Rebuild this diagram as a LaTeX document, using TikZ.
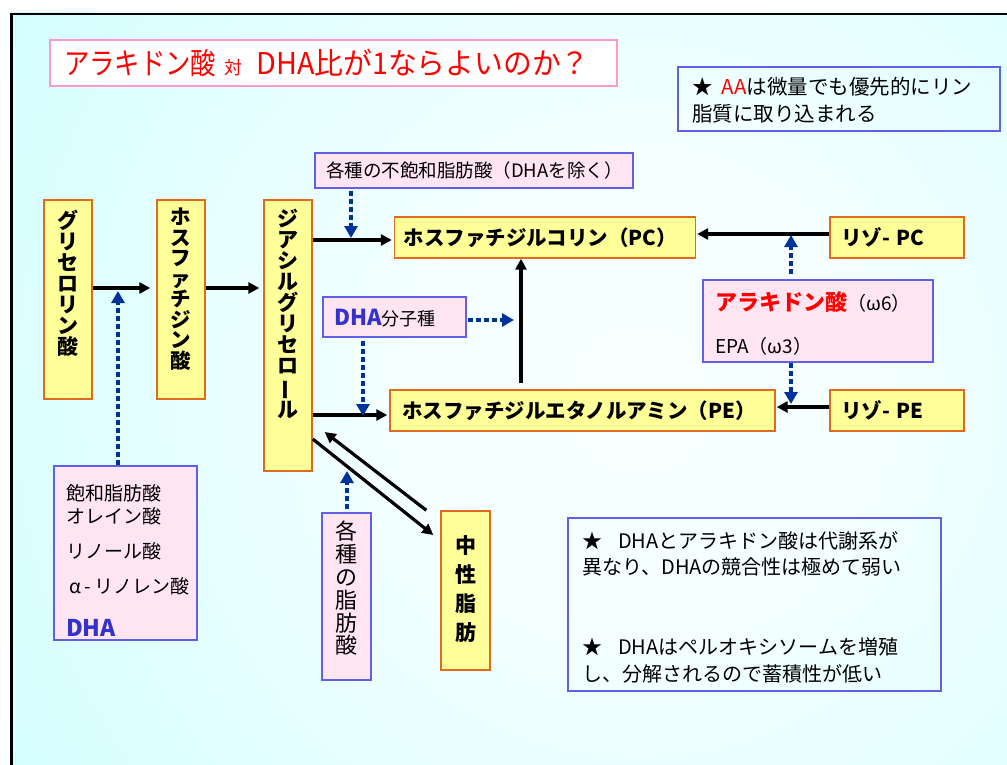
\documentclass[tikz,border=0pt]{standalone}
\usepackage{fontspec}
\usepackage{graphicx}
\setmainfont{Noto Sans CJK JP}
\usetikzlibrary{arrows.meta}
\definecolor{bgcyan}{HTML}{CCFFFF}
\definecolor{yfill}{HTML}{FFFF99}
\definecolor{yborder}{HTML}{E06A1E}
\definecolor{pfill}{HTML}{FFE4F1}
\definecolor{pborder}{HTML}{6060E6}
\definecolor{tpink}{HTML}{FF99CC}
\definecolor{dhablue}{HTML}{3333CC}
\definecolor{dblue}{HTML}{003399}
\newcommand\myfs[2]{\fontsize{#1}{#2}\selectfont}
\pgfdeclareradialshading{bgshade}{\pgfpoint{0bp}{0bp}}{color(0bp)=(white!85!bgcyan); color(8bp)=(white!80!bgcyan); color(31bp)=(bgcyan); color(50bp)=(bgcyan)}
\tikzset{
  ybox/.style={draw=yborder, fill=yfill, line width=1.4pt, inner sep=0pt},
  pbox/.style={draw=pborder, fill=pfill, line width=1.4pt, inner sep=0pt},
  nbox/.style={draw=pborder, line width=1.4pt, inner sep=0pt},
  hbox/.style={ybox, align=left, minimum height=41pt, font=\bfseries\myfs{20.5}{24}},
  vtxt/.style={align=center, inner sep=0pt, anchor=north},
  ltxt/.style={anchor=base west, inner sep=0pt},
  blk/.style={line width=3.2pt, -{Triangle[length=11pt,width=11pt]}},
  dots/.style={draw=dblue, line width=4pt, dash pattern=on 5pt off 3pt, -{Triangle[length=12pt,width=13pt,fill=dblue]}}
}
\begin{document}
\begin{tikzpicture}[x=1pt,y=-1pt]
\useasboundingbox (0,0) rectangle (1007,765);
\fill[white] (0,0) rectangle (1007,765);
\begin{scope}
\clip (11,13) rectangle (1007,765);
\shade[shading=bgshade] (-60,-300) rectangle (1340,1100);
\end{scope}
\draw[line width=2.5pt] (11.5,765) -- (11.5,14) -- (1007,14);

% title
\node[draw=tpink, fill=white, line width=1.8pt, minimum width=567pt, minimum height=46pt, inner sep=0pt] (title) at (333.5,63) {};
\node[anchor=west, inner sep=0pt, text=red, font=\myfs{30}{30}] (titletext) at (64,63) {\scalebox{0.845}[1]{アラキドン酸}\hspace{8pt}{\myfs{18}{18}対}\hspace{14pt}\scalebox{0.96}[1]{DHA比が1ならよいのか？}};

% top-right note
\node[nbox, minimum width=322pt, minimum height=64pt] (aanote) at (839,99) {};
\node[ltxt, font=\myfs{20.5}{20.5}] (aa1) at (692,95) {★\hspace{0.45em}{\color{red}AA}は微量でも優先的にリン};
\node[ltxt, font=\myfs{20.5}{20.5}] (aa2) at (692,122) {脂質に取り込まれる};

% vertical yellow boxes
\node[ybox, minimum width=48pt, minimum height=199pt] (gp) at (68,299.5) {};
\node[vtxt, font=\bfseries\myfs{21}{21}] (gpt) at (68,210) {グ\\リ\\セ\\ロ\\リ\\ン\\酸};
\node[ybox, minimum width=48pt, minimum height=199pt] (pa) at (181,299.5) {};
\node[vtxt, font=\bfseries\myfs{20.5}{20.5}] (pat) at (181,208) {ホ\\ス\\フ\\ァ\\チ\\ジ\\ン\\酸};
\node[ybox, minimum width=48pt, minimum height=271pt] (dag) at (288,335.5) {};
\node[vtxt, font=\bfseries\myfs{21}{21}] (dagt) at (288,209) {ジ\\ア\\シ\\ル\\グ\\リ\\セ\\ロ\\\rotatebox[origin=c]{90}{ー}\\ル};
\node[ybox, minimum width=49pt, minimum height=159pt] (tg) at (465.5,590.5) {};
\node[vtxt, font=\bfseries\myfs{21}{29}] (tgt) at (465.5,535) {中\\性\\脂\\肪};

% horizontal yellow boxes
\node[hbox, text width=283pt, inner xsep=9pt] (pc) at (545,237.5) {ホスファチジルコリン（PC）};
\node[hbox, text width=361pt, inner xsep=12pt] (pe) at (582.5,410.5) {ホスファチジルエタノルアミン（PE）};
\node[hbox, text width=112pt, inner xsep=11pt] (lpc) at (897,237.5) {リゾ- PC};
\node[hbox, text width=112pt, inner xsep=11pt] (lpe) at (897,410.5) {リゾ- PE};

% pink boxes
\node[pbox, minimum width=318pt, minimum height=35pt] (unsat) at (474,170.5) {};
\node[ltxt, font=\myfs{18.5}{18.5}] (unsatt) at (326,177.5) {各種の不飽和脂肪酸（DHAを除く）};
\node[pbox, minimum width=143pt, minimum height=40pt] (dhamol) at (394.5,317) {};
\node[ltxt] (dhamolt) at (334,325) {{\color{dhablue}\bfseries\myfs{22}{22}DHA}{\myfs{18}{18}分子種}};
\node[pbox, minimum width=230pt, minimum height=82pt] (aa) at (818,321) {};
\node[ltxt] (aat1) at (715,310) {{\color{red}\bfseries\myfs{22}{22}アラキドン酸}{\myfs{19}{19}（ω6）}};
\node[ltxt, font=\myfs{19}{19}] (aat2) at (715,353) {EPA（ω3）};
\node[pbox, minimum width=49pt, minimum height=167pt] (fa) at (346.5,596.5) {};
\node[vtxt, font=\myfs{22}{22.8}] (fat) at (346.5,521) {各\\種\\の\\脂\\肪\\酸};
\node[pbox, minimum width=143pt, minimum height=174pt] (sat) at (125.5,553) {};
\node[ltxt, font=\myfs{19}{19}] (sat1) at (66,500) {飽和脂肪酸};
\node[ltxt, font=\myfs{19}{19}] (sat2) at (66,523) {オレイン酸};
\node[ltxt, font=\myfs{19}{19}] (sat3) at (66,558) {リノール酸};
\node[ltxt, font=\myfs{19}{19}] (sat4) at (66,593) {\,α\,-\,リノレン酸};
\node[ltxt, font=\bfseries\myfs{23}{23}, text=dhablue] (sat5) at (66,636) {DHA};

% bottom-right note
\node[nbox, minimum width=373pt, minimum height=173pt] (bnote) at (754.5,604.5) {};
\node[ltxt, font=\myfs{20}{20}] (bn1) at (582,548) {★\hspace{0.8em}DHAとアラキドン酸は代謝系が};
\node[ltxt, font=\myfs{20}{20}] (bn2) at (582,574) {異なり、DHAの競合性は極めて弱い};
\node[ltxt, font=\myfs{20}{20}] (bn3) at (582,654) {★\hspace{0.8em}DHAはペルオキシソームを増殖};
\node[ltxt, font=\myfs{20}{20}] (bn4) at (582,681) {し、分解されるので蓄積性が低い};

% black arrows
\draw[blk, shorten >=6pt] ([yshift=11.5pt]gp.east) -- ([yshift=11.5pt]pa.west);
\draw[blk, shorten >=4pt] ([yshift=11.5pt]pa.east) -- ([yshift=47.5pt]dag.west);
\draw[blk, shorten >=2pt] ([yshift=95.5pt]dag.east) -- ([yshift=-2.5pt]pc.west);
\draw[blk, shorten >=2pt] ([yshift=-79.5pt]dag.east) -- ([yshift=-4.5pt]pe.west);
\draw[blk, shorten <=6pt] ([xshift=-61.5pt]pe.north) -- ([xshift=-24pt]pc.south);
\draw[blk, shorten >=1pt] ([yshift=3.5pt]lpc.west) -- ([yshift=3.5pt]pc.east);
\draw[blk, shorten >=1pt] ([yshift=3.5pt]lpe.west) -- ([yshift=3.5pt]pe.east);
\draw[blk] ([yshift=-103.5pt]dag.east) -- ([xshift=-7pt,yshift=55.5pt]tg.west);
\draw[blk] ([xshift=-14pt]tg.north west) -- ([xshift=12pt,yshift=-96.5pt]dag.east);

% dotted blue arrows
\coordinate (j1) at (118,291);
\coordinate (j2) at (351,238);
\coordinate (j3) at (514,320);
\coordinate (j4) at (363,416);
\coordinate (j5) at (791,235);
\coordinate (j6) at (791,404);
\coordinate (j7) at (347,471);
\draw[dots] ([xshift=-7.5pt]sat.north) -- (j1);
\draw[dots, shorten <=2pt] ([xshift=-123pt]unsat.south) -- (j2);
\draw[dots, shorten <=1pt] ([yshift=-3pt]dhamol.east) -- (j3);
\draw[dots, shorten <=3pt] ([xshift=-31.5pt]dhamol.south) -- (j4);
\draw[dots, shorten <=5pt] ([xshift=-27pt]aa.north) -- (j5);
\draw[dots] ([xshift=-27pt]aa.south) -- (j6);
\draw[dots, shorten <=3pt] ([xshift=0.5pt]fa.north) -- (j7);
\end{tikzpicture}
\end{document}
